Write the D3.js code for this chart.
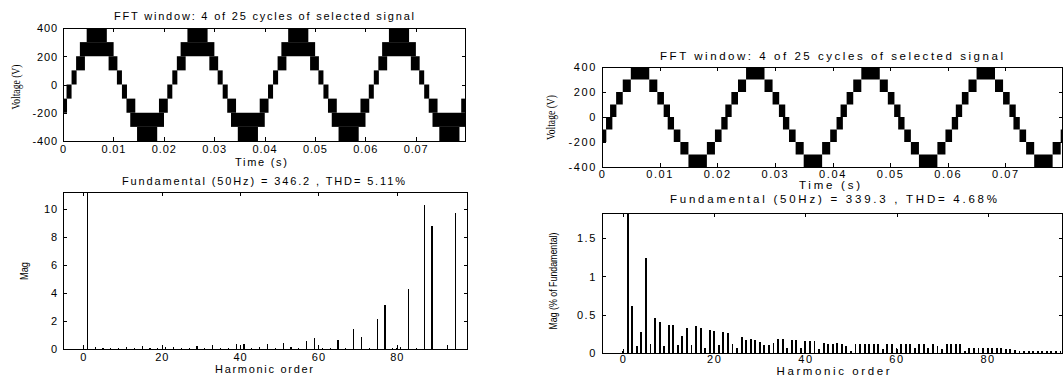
<!DOCTYPE html>
<html>
<head>
<meta charset="utf-8">
<script src="https://cdn.jsdelivr.net/npm/d3@7/dist/d3.min.js"></script>
<style>
  body { margin: 0; background: #fff; }
  svg text { fill: #000; }
</style>
</head>
<body>
<svg id="chart" width="1064" height="376"></svg>
<script>
// ---- data ----
const timeTicks = [0, 0.01, 0.02, 0.03, 0.04, 0.05, 0.06, 0.07];
const voltTicks = [-400, -200, 0, 200, 400];
const harmTicks = [0, 20, 40, 60, 80];
const magTicksLeft = [0, 2, 4, 6, 8, 10];
const magTicksRight = [0, 0.5, 1, 1.5];

const periodMs = 20;
const cyclesShown = 4;
// one period of the switched waveform: [t0, t1, vLow, vHigh], ms relative to the positive peak
const leftPeakMs = 6.7;
const leftCycle = [
  [-2.0, 2.0, 300, 400],
  [-3.35, 3.35, 200, 300],
  [-4.1, -2.35, 100, 200], [2.35, 4.1, 100, 200],
  [-5.0, -4.0, 0, 100], [4.0, 5.0, 0, 100],
  [8.0, 12.0, -400, -300],
  [6.65, 13.35, -300, -200],
  [5.9, 7.65, -200, -100], [12.35, 14.1, -200, -100],
  [5.0, 6.0, -100, 0], [14.0, 15.0, -100, 0]
];
const rightPeakMs = 6.6;
const rightCycle = [
  [-1.6, 1.6, 300, 400],
  [-3.0, -1.6, 200, 300], [1.6, 3.0, 200, 300],
  [-4.15, -3.0, 100, 200], [3.0, 4.15, 100, 200],
  [-5.2, -4.1, 0, 100], [4.1, 5.2, 0, 100],
  [8.4, 11.6, -400, -300],
  [7.0, 8.4, -300, -200], [11.6, 13.0, -300, -200],
  [5.85, 7.0, -200, -100], [13.0, 14.15, -200, -100],
  [4.8, 5.9, -100, 0], [14.1, 15.2, -100, 0]
];

// harmonic magnitudes, order 0..97 (left, volts) and 0..96 (right, % of fundamental)
const magLeft = [
  0.08, 346.2, 0.03, 0.15, 0.02, 0.08, 0.02, 0.08, 0.02, 0.07,
  0.02, 0.15, 0.02, 0.10, 0.03, 0.20, 0.03, 0.08, 0.02, 0.06,
  0.03, 0.17, 0.03, 0.15, 0.03, 0.10, 0.02, 0.08, 0.02, 0.24,
  0.02, 0.05, 0.02, 0.26, 0.02, 0.04, 0.02, 0.05, 0.02, 0.36,
  0.03, 0.33, 0.03, 0.10, 0.03, 0.12, 0.03, 0.36, 0.03, 0.08,
  0.03, 0.45, 0.03, 0.17, 0.03, 0.07, 0.02, 0.57, 0.03, 0.76,
  0.10, 0.08, 0.02, 0.08, 0.02, 0.64, 0.02, 0.05, 0.02, 1.40,
  0.03, 0.88, 0.02, 0.05, 0.02, 2.14, 0.03, 3.14, 0.03, 0.05,
  0.10, 0.12, 0.03, 4.29, 0.03, 0.05, 0.02, 10.29, 0.02, 8.81,
  0.02, 0.03, 0.03, 0.29, 0.03, 9.69, 0.02, 0.02
];
const magRight = [
  0.03, 100, 0.61, 0.09, 0.27, 1.24, 0.12, 0.46, 0.40, 0.09,
  0.36, 0.37, 0.11, 0.22, 0.32, 0.11, 0.35, 0.33, 0.065, 0.30,
  0.29, 0.10, 0.27, 0.26, 0.12, 0.06, 0.21, 0.17, 0.18, 0.17,
  0.14, 0.10, 0.10, 0.13, 0.18, 0.18, 0.07, 0.17, 0.17, 0.06,
  0.15, 0.15, 0.15, 0.05, 0.125, 0.115, 0.115, 0.125, 0.115, 0.085,
  0.03, 0.115, 0.115, 0.115, 0.115, 0.115, 0.115, 0.05, 0.115, 0.115,
  0.07, 0.115, 0.115, 0.115, 0.07, 0.115, 0.115, 0.07, 0.115, 0.085,
  0.05, 0.115, 0.115, 0.115, 0.115, 0.03, 0.07, 0.07, 0.07, 0.06,
  0.07, 0.065, 0.06, 0.06, 0.055, 0.05, 0.04, 0.03, 0.025, 0.03,
  0.02, 0.025, 0.02, 0.025, 0.02, 0.02, 0.02
];

const titleWave = "FFT window: 4 of 25 cycles of selected signal";
const titleLeft = "Fundamental (50Hz) = 346.2 , THD= 5.11%";
const titleRight = "Fundamental (50Hz) = 339.3 , THD= 4.68%";

// ---- layout ----
const svg = d3.select("#chart");
const SANS = "'Liberation Sans', Arial, sans-serif";

const panels = {
  lt: { x: [63, 466], y: [141, 28], font: 11, ls: 0.9, xLab: 12 },
  lb: { x: [63, 468], y: [349, 192], font: 11, ls: 0.9, xLab: 12 },
  rt: { x: [602, 1063], y: [167, 67], font: 11, ls: 1.6, xLab: 11 },
  rb: { x: [602, 1063], y: [353, 213], font: 11, ls: 1.6, xLab: 10 }
};

function fmtNum(d) { return String(d); }
function fmtTime(d) { return d === 0 ? "0" : d.toFixed(2); }

let clipId = 0;
function frame(p, x, y, xt, yt, xf, yf) {
  const g = svg.append("g");
  const [x0, x1] = p.x, [y0, y1] = p.y;
  const t = 4;
  const styleTicks = sel => {
    sel.select(".domain").remove();
    sel.selectAll("line").attr("stroke", "#000").attr("shape-rendering", "crispEdges");
    sel.attr("font-family", SANS).attr("font-size", p.font);
    sel.selectAll("text").attr("letter-spacing", p.ls).attr("fill", "#000");
  };
  g.append("g").attr("transform", `translate(0,${y0})`)
    .call(d3.axisBottom(x).tickValues(xt).tickFormat(xf).tickSizeInner(-t).tickSizeOuter(0))
    .call(styleTicks)
    .call(s => s.selectAll("text").attr("y", p.xLab).attr("dy", 0));
  g.append("g").attr("transform", `translate(0,${y1})`)
    .call(d3.axisTop(x).tickValues(xt).tickFormat("").tickSizeInner(-t).tickSizeOuter(0))
    .call(styleTicks);
  g.append("g").attr("transform", `translate(${x0},0)`)
    .call(d3.axisLeft(y).tickValues(yt).tickFormat(yf).tickSizeInner(-t).tickSizeOuter(0).tickPadding(5))
    .call(styleTicks)
    .call(s => s.selectAll("text").attr("dy", "0.36em"));
  g.append("g").attr("transform", `translate(${x1},0)`)
    .call(d3.axisRight(y).tickValues(yt).tickFormat("").tickSizeInner(-t).tickSizeOuter(0))
    .call(styleTicks);
  g.append("rect")
    .attr("x", x0 + 0.5).attr("y", y1 + 0.5)
    .attr("width", x1 - x0 - 1).attr("height", y0 - y1)
    .attr("fill", "none").attr("stroke", "#000");
  const id = "clip" + (clipId++);
  svg.append("clipPath").attr("id", id).append("rect")
    .attr("x", x0).attr("y", y1).attr("width", x1 - x0).attr("height", y0 - y1);
  return id;
}

function label(str, cx, cy, opts) {
  const o = Object.assign({ size: 11, family: SANS, rotate: false, len: null, adjust: "spacing" }, opts);
  const t = svg.append("text")
    .attr("text-anchor", "middle")
    .attr("font-family", o.family)
    .attr("font-size", o.size)
    .attr("transform", `translate(${cx},${cy})` + (o.rotate ? " rotate(-90)" : ""))
    .text(str);
  if (o.len) t.attr("textLength", o.len).attr("lengthAdjust", o.adjust);
  return t;
}

function wavePanel(p, cycle, peakMs) {
  const x = d3.scaleLinear().domain([0, 0.08]).range(p.x);
  const y = d3.scaleLinear().domain([-400, 400]).range(p.y);
  const id = frame(p, x, y, timeTicks, voltTicks, fmtTime, fmtNum);
  const blocks = [];
  for (let k = -1; k <= cyclesShown; k++) {
    cycle.forEach(b => blocks.push([
      (peakMs + k * periodMs + b[0]) / 1000,
      (peakMs + k * periodMs + b[1]) / 1000, b[2], b[3]]));
  }
  svg.append("g").attr("clip-path", `url(#${id})`)
    .selectAll("rect").data(blocks).join("rect")
    .attr("x", d => x(d[0])).attr("width", d => x(d[1]) - x(d[0]))
    .attr("y", d => y(d[3])).attr("height", d => y(d[2]) - y(d[3]))
    .attr("fill", "#000");
}

function specPanel(p, mags, domX, domY, yt, barW) {
  const x = d3.scaleLinear().domain(domX).range(p.x);
  const y = d3.scaleLinear().domain(domY).range(p.y);
  const id = frame(p, x, y, harmTicks, yt, fmtNum, fmtNum);
  svg.append("g").attr("clip-path", `url(#${id})`)
    .selectAll("rect").data(mags).join("rect")
    .attr("x", (d, i) => x(i - barW / 2))
    .attr("width", x(barW) - x(0))
    .attr("y", d => y(d))
    .attr("height", d => y(0) - y(d))
    .attr("fill", "#000")
    .attr("shape-rendering", "crispEdges");
}

wavePanel(panels.lt, leftCycle, leftPeakMs);
wavePanel(panels.rt, rightCycle, rightPeakMs);
specPanel(panels.lb, magLeft, [-5.2, 98.2], [0, 11.2], magTicksLeft, 0.3);
specPanel(panels.rb, magRight, [-4.65, 96.55], [0, 1.82], magTicksRight, 0.4);

// titles and axis names
label(titleWave, 264, 20, { len: 300 });
label("Time (s)", 261, 166, { len: 52 });
label(titleLeft, 263.5, 185, { len: 283 });
label("Harmonic order", 264, 373, { len: 98 });
label("Voltage (V)", 19.5, 87, { size: 13, family: "'Liberation Serif', serif", rotate: true, len: 45, adjust: "spacingAndGlyphs" });
label("Mag", 28, 271, { size: 11, rotate: true, len: 18, adjust: "spacingAndGlyphs" });

label(titleWave, 831.5, 60, { size: 11.5, len: 343 });
label("Time (s)", 829.5, 189, { size: 11.5, len: 61 });
label(titleRight, 833.5, 203, { size: 11.5, len: 327 });
label("Harmonic order", 833, 375, { size: 11.5, len: 113 });
label("Voltage (V)", 554.5, 117.5, { size: 13, family: "'Liberation Serif', serif", rotate: true, len: 45, adjust: "spacingAndGlyphs" });
label("Mag (% of Fundamental)", 557, 281, { size: 10, rotate: true, len: 97, adjust: "spacingAndGlyphs" });
</script>
</body>
</html>
